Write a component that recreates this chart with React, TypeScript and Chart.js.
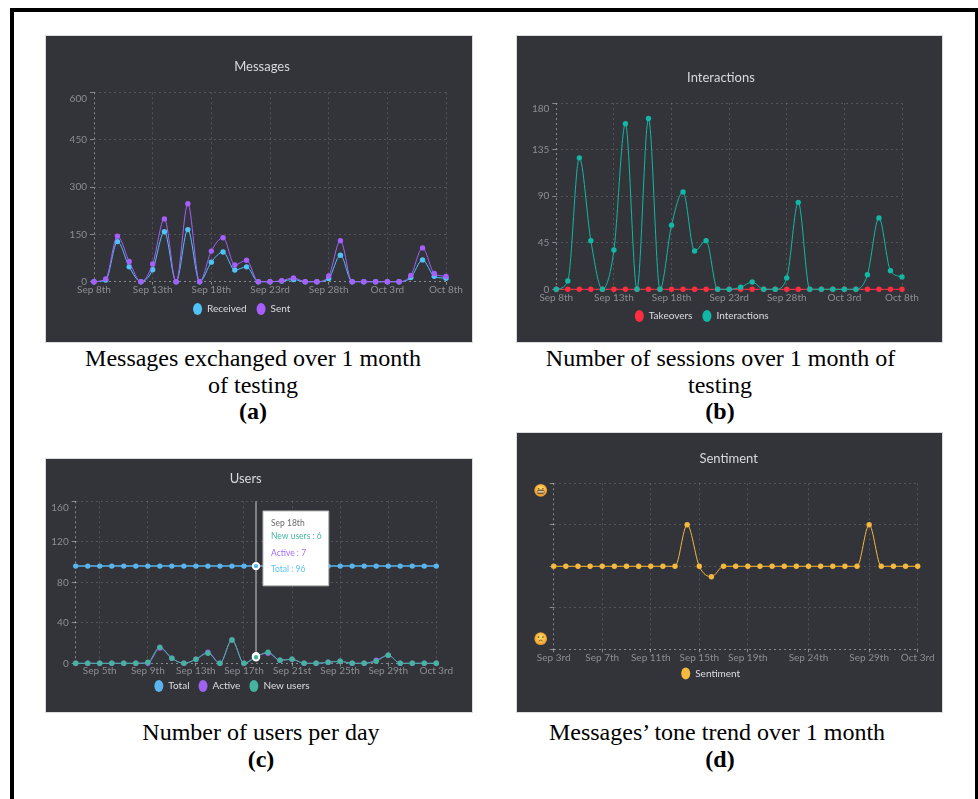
import React, { useEffect, useRef } from "react";
import { Chart, registerables, Tooltip } from "chart.js";

Chart.register(...registerables);

const datesFromSep8 = ["Sep 8th","Sep 9th","Sep 10th","Sep 11th","Sep 12th","Sep 13th","Sep 14th","Sep 15th","Sep 16th","Sep 17th","Sep 18th","Sep 19th","Sep 20th","Sep 21st","Sep 22nd","Sep 23rd","Sep 24th","Sep 25th","Sep 26th","Sep 27th","Sep 28th","Sep 29th","Sep 30th","Oct 1st","Oct 2nd","Oct 3rd","Oct 4th","Oct 5th","Oct 6th","Oct 7th","Oct 8th"];
const datesFromSep3 = ["Sep 3rd","Sep 4th","Sep 5th","Sep 6th","Sep 7th","Sep 8th","Sep 9th","Sep 10th","Sep 11th","Sep 12th","Sep 13th","Sep 14th","Sep 15th","Sep 16th","Sep 17th","Sep 18th","Sep 19th","Sep 20th","Sep 21st","Sep 22nd","Sep 23rd","Sep 24th","Sep 25th","Sep 26th","Sep 27th","Sep 28th","Sep 29th","Sep 30th","Oct 1st","Oct 2nd","Oct 3rd"];

const ticksFiveDay = ["Sep 8th","Sep 13th","Sep 18th","Sep 23rd","Sep 28th","Oct 3rd","Oct 8th"];
const ticksUsers = ["Sep 3rd","Sep 5th","Sep 9th","Sep 13th","Sep 17th","Sep 21st","Sep 25th","Sep 29th","Oct 3rd"];
const hiddenTicksUsers = ["Sep 3rd"];
const ticksSentiment = ["Sep 3rd","Sep 7th","Sep 11th","Sep 15th","Sep 19th","Sep 24th","Sep 29th","Oct 3rd"];

const received = [0,5,127,47,0,38,158,0,165,0,62,94,37,47,0,0,2,7,0,0,10,84,0,0,0,0,0,13,69,17,11];
const sent = [0,9,144,64,0,56,199,0,247,0,97,139,53,68,0,0,3,12,0,0,18,130,0,0,0,0,0,20,107,26,17];
const takeovers = [0,0,0,0,0,0,0,0,0,0,0,0,0,0,0,0,0,0,0,0,0,0,0,0,0,0,0,0,0,0,0];
const interactions = [0,8,127,47,0,38,160,0,165,0,62,94,37,47,0,0,2,7,0,0,11,84,0,0,0,0,0,14,69,18,12];
const totalUsers = [96,96,96,96,96,96,96,96,96,96,96,96,96,96,96,96,96,96,96,96,96,96,96,96,96,96,96,96,96,96,96];
const activeUsers = [0,0,0,0,0,0,0,15,5,0,4,11,0,23,0,7,10,3,4,0,0,1,2,0,0,3,8,0,0,0,0];
const newUsers = [0,0,0,0,0,0,1,16,5,0,4,10,0,23,0,6,11,3,4,0,0,1,2,0,0,2,8,0,0,0,0];
const sentiment = [0,0,0,0,0,0,0,0,0,0,0,1,0,-0.25,0,0,0,0,0,0,0,0,0,0,0,0,1,0,0,0,0];

const messagesTicks = [0,150,300,450,600];
const sessionsTicks = [0,45,90,135,180];
const usersTicks = [0,40,80,120,160];
const sentimentTicks = [-2,-1,0,1,2];

const captionLines = [
  { text: "Messages exchanged over 1 month", x: 253, y: 358, bold: false },
  { text: "of testing", x: 253, y: 385, bold: false },
  { text: "(a)", x: 253, y: 411, bold: true },
  { text: "Number of sessions over 1 month of", x: 720.5, y: 358, bold: false },
  { text: "testing", x: 720, y: 385, bold: false },
  { text: "(b)", x: 720, y: 411, bold: true },
  { text: "Number of users per day", x: 261, y: 732, bold: false },
  { text: "(c)", x: 261, y: 759, bold: true },
  { text: "Messages\u2019 tone trend over 1 month", x: 717, y: 732, bold: false },
  { text: "(d)", x: 720, y: 759, bold: true },
];

const FONT = "Lato, sans-serif";
const DIM = "rgba(255,255,255,0.16)";
const AXIS = "rgba(255,255,255,0.42)";
const TICK_TEXT = "#8d8d91";

(Tooltip as any).positioners.pinnedBox = function () {
  return { x: 217, y: 52, xAlign: "left", yAlign: "top" };
};

const placeBoxes = {
  id: "placeBoxes",
  afterLayout(chart: any, _a: any, o: any) {
    const t = chart.titleBlock;
    const tw = 200;
    t.left = o.titleCx - tw / 2;
    t.right = o.titleCx + tw / 2;
    t.width = tw;
    t.top = o.titleCy - t.height / 2;
    const l = chart.legend;
    const shift = o.legendCx - (l.left + l.right) / 2;
    l.left += shift;
    l.right += shift;
    l.top = o.legendCy - o.legendGap - 6;
  },
};

const crosshair = {
  id: "crosshair",
  beforeDatasetsDraw(chart: any, _a: any, o: any) {
    if (o.index == null) return;
    const x = chart.scales.x.getPixelForValue(o.index);
    const y = chart.scales.y.getPixelForValue(chart.data.datasets[o.dataset].data[o.index]);
    const c = chart.ctx;
    c.save();
    c.strokeStyle = "#b4b4b6";
    c.lineWidth = 1.2;
    c.beginPath();
    c.moveTo(x, chart.chartArea.top);
    c.lineTo(x, y);
    c.stroke();
    c.restore();
  },
};

function drawFace(c: CanvasRenderingContext2D, x: number, y: number, happy: boolean) {
  const r = 6.4;
  const g = c.createRadialGradient(x, y - 2, 1, x, y, r);
  g.addColorStop(0, "#fbd667");
  g.addColorStop(0.7, "#f5b63f");
  g.addColorStop(1, "#e4892c");
  c.fillStyle = g;
  c.beginPath();
  c.arc(x, y, r, 0, Math.PI * 2);
  c.fill();
  c.fillStyle = "#6b4a1c";
  c.beginPath();
  c.arc(x - 2.2, y - 1.6, 0.8, 0, Math.PI * 2);
  c.arc(x + 2.2, y - 1.6, 0.8, 0, Math.PI * 2);
  c.fill();
  if (happy) {
    c.fillStyle = "#7a5a2c";
    c.beginPath();
    c.ellipse(x, y + 1.6, 3.9, 2.4, 0, 0, Math.PI * 2);
    c.fill();
    c.fillStyle = "#eee3c8";
    c.fillRect(x - 3.2, y + 0.9, 6.4, 1.3);
  } else {
    c.strokeStyle = "#8a5d22";
    c.lineWidth = 0.9;
    c.beginPath();
    c.arc(x, y + 3.6, 2.2, Math.PI * 1.15, Math.PI * 1.85);
    c.stroke();
  }
}

const faces = {
  id: "faces",
  afterDraw(chart: any, _a: any, o: any) {
    if (!o.show) return;
    const y = chart.scales.y;
    const x = chart.chartArea.left - 13;
    drawFace(chart.ctx, x, y.getPixelForValue(y.max) + 7, true);
    drawFace(chart.ctx, x, y.getPixelForValue(y.min) - 10.6, false);
  },
};

type Geo = {
  w: number; h: number; left: number; right: number; top: number; bottom: number;
  titleCx: number; titleCy: number; legendCx: number; legendCy: number; legendGap: number; xLabelPad: number;
};

function series(label: string, data: number[], color: string, order: number, borderWidth = 1) {
  return {
    label, data, order,
    borderColor: color, backgroundColor: color,
    pointBackgroundColor: color, pointBorderColor: color, pointBorderWidth: 0,
    pointRadius: 2.7, borderWidth,
    cubicInterpolationMode: "monotone", clip: false,
    pointHoverRadius: 3.2, pointHoverBorderWidth: 2, pointHoverBorderColor: "#ffffff", pointHoverBackgroundColor: color,
  };
}

function buildOptions(g: Geo, title: string, gridLabels: string[], hidden: string[], yTicks: number[], showYLabels: boolean, extra: any = {}) {
  const titleH = 15.6;
  const legendH = 12 + g.legendGap + 10;
  const xAxisH = 20;
  const yMin = yTicks[0];
  const yMax = yTicks[yTicks.length - 1];
  const dim = (first: boolean) => (first ? AXIS : DIM);
  return {
    responsive: false,
    animation: false,
    maintainAspectRatio: false,
    events: [],
    layout: { padding: { left: 0, right: g.w - g.right, top: g.top - titleH, bottom: g.h - g.bottom - xAxisH - legendH } },
    scales: {
      x: {
        type: "category",
        grid: {
          color: (c: any) => dim(c.index === 0), tickColor: AXIS, tickLength: 3, tickBorderDash: [], lineWidth: 1,
        },
        border: { display: false, dash: [2, 3] },
        afterBuildTicks(s: any) {
          const labels = s.getLabels();
          s.ticks = s.ticks.filter((t: any) => gridLabels.includes(labels[t.value]));
        },
        afterFit(s: any) { s.height = xAxisH; s.paddingLeft = 0; s.paddingRight = 0; },
        ticks: {
          autoSkip: false, maxRotation: 0, minRotation: 0, padding: g.xLabelPad, color: TICK_TEXT,
          font: { family: FONT, size: 10 },
          callback(this: any, v: any) {
            const l = this.getLabelForValue(v);
            return hidden.includes(l) ? "" : l;
          },
        },
      },
      y: {
        min: yMin, max: yMax,
        grid: { color: (c: any) => dim(c.index === 0), tickColor: AXIS, tickLength: 4, tickBorderDash: [], lineWidth: 1 },
        border: { display: false, dash: [2, 3] },
        afterBuildTicks(s: any) { s.ticks = yTicks.map((value) => ({ value })); },
        afterFit(s: any) { s.width = g.left; s.paddingTop = 0; s.paddingBottom = 0; },
        ticks: {
          padding: 3, color: TICK_TEXT, font: { family: FONT, size: 10 },
          callback: (v: any) => (!showYLabels ? "" : v === yMax ? ["", String(v)] : String(v)),
        },
      },
    },
    plugins: {
      title: { display: true, text: title, color: "#d9d9dc", padding: 0, font: { family: FONT, size: 13, weight: "normal", lineHeight: 1.2 } },
      legend: {
        display: true, position: "bottom",
        labels: {
          usePointStyle: true, boxWidth: 8.5, boxHeight: 8.5, pointStyleWidth: 9, padding: g.legendGap, color: "#dcdce0",
          font: { family: FONT, size: 10 },
          sort: (a: any, b: any) => a.datasetIndex - b.datasetIndex,
        },
      },
      tooltip: { enabled: false },
      placeBoxes: { titleCx: g.titleCx, titleCy: g.titleCy, legendCx: g.legendCx, legendCy: g.legendCy, legendGap: g.legendGap },
      ...extra,
    },
  };
}

function useChart(make: (el: HTMLCanvasElement) => Chart) {
  const ref = useRef<HTMLCanvasElement | null>(null);
  useEffect(() => {
    const chart = make(ref.current as HTMLCanvasElement);
    return () => chart.destroy();
  }, []);
  return ref;
}

function Panel({ x, y, w, h, make }: { x: number; y: number; w: number; h: number; make: (el: HTMLCanvasElement) => Chart }) {
  const ref = useChart(make);
  return (
    <div style={{ position: "absolute", left: x, top: y, width: w, height: h, background: "#33343a", boxShadow: "0 0 0 1px rgba(190,190,195,0.55)" }}>
      <canvas ref={ref} width={w} height={h} style={{ display: "block", width: w, height: h, filter: "blur(0.45px)" }} />
    </div>
  );
}

const allPlugins = [placeBoxes, crosshair, faces];

const makeMessages = (el: HTMLCanvasElement) =>
  new Chart(el, {
    type: "line",
    plugins: allPlugins,
    data: { labels: datesFromSep8, datasets: [series("Received", received, "#4fc3f7", 2), series("Sent", sent, "#a65efc", 1)] },
    options: buildOptions({ w: 426, h: 306, left: 48, right: 400, top: 56.3, bottom: 243.7, titleCx: 216, titleCy: 31, legendCx: 195.7, legendCy: 274, legendGap: 10, xLabelPad: -1 }, "Messages", ticksFiveDay, [], messagesTicks, true),
  } as any);

const makeSessions = (el: HTMLCanvasElement) =>
  new Chart(el, {
    type: "line",
    plugins: allPlugins,
    data: { labels: datesFromSep8, datasets: [series("Takeovers", takeovers, "#ff2d40", 2), series("Interactions", interactions, "#12b8a6", 1)] },
    options: buildOptions({ w: 425, h: 306, left: 39.3, right: 385, top: 67, bottom: 251.3, titleCx: 204, titleCy: 41.7, legendCx: 184.7, legendCy: 281, legendGap: 10, xLabelPad: -1 }, "Interactions", ticksFiveDay, [], sessionsTicks, true),
  } as any);

const makeUsers = (el: HTMLCanvasElement) => {
  const chart = new Chart(el, {
    type: "line",
    plugins: allPlugins,
    data: {
      labels: datesFromSep3,
      datasets: [
        series("Total", totalUsers, "#5ab4ee", 3, 1.5),
        series("Active", activeUsers, "#9d62f0", 2),
        series("New users", newUsers, "#45b39d", 1),
      ],
    },
    options: (() => {
      const o: any = buildOptions({ w: 426, h: 253, left: 29.7, right: 390.3, top: 42.3, bottom: 202.3, titleCx: 199.7, titleCy: 19.5, legendCx: 186, legendCy: 228, legendGap: 9, xLabelPad: -2 }, "Users", ticksUsers, hiddenTicksUsers, usersTicks, true, { crosshair: { index: 15, dataset: 2 } });
      o.plugins.tooltip = {
        enabled: true, position: "pinnedBox", xAlign: "left", yAlign: "top",
        backgroundColor: "#ffffff", borderColor: "#b9b9b9", borderWidth: 1, cornerRadius: 0,
        caretSize: 0, caretPadding: 0, displayColors: false,
        padding: { top: 7, bottom: 11.6, left: 8, right: 7 },
        titleColor: "#6b6b6b", titleMarginBottom: 3.4, titleFont: { family: FONT, size: 8.5, weight: "normal" },
        bodyFont: { family: FONT, size: 8.5 }, bodySpacing: 6,
        callbacks: {
          label: (c: any) => `${c.dataset.label} : ${c.formattedValue}`,
          labelTextColor: (c: any) => c.dataset.tooltipColor,
        },
      };
      return o;
    })(),
  } as any);
  const ds: any[] = chart.data.datasets as any[];
  ds[0].tooltipColor = "#5cc3f5";
  ds[1].tooltipColor = "#a66cff";
  ds[2].tooltipColor = "#45b8a0";
  const active = [2, 1, 0].map((datasetIndex) => ({ datasetIndex, index: 15 }));
  chart.setActiveElements(active);
  const pt = chart.getDatasetMeta(2).data[15];
  (chart.tooltip as any).setActiveElements(active, { x: pt.x, y: pt.y });
  chart.render();
  return chart;
};

const makeSentiment = (el: HTMLCanvasElement) =>
  new Chart(el, {
    type: "line",
    plugins: allPlugins,
    data: { labels: datesFromSep3, datasets: [series("Sentiment", sentiment, "#f6b83d", 1)] },
    options: buildOptions({ w: 425, h: 279, left: 36.7, right: 400.7, top: 50.3, bottom: 214.3, titleCx: 211.7, titleCy: 26.3, legendCx: 193.7, legendCy: 241.5, legendGap: 10, xLabelPad: -1 }, "Sentiment", ticksSentiment, [], sentimentTicks, false, { faces: { show: true } }),
  } as any);

export default function App() {
  return (
    <div style={{ position: "absolute", left: 0, top: 0, width: 978, height: 799, background: "#fff", overflow: "hidden" }}>
      <div style={{ position: "absolute", left: 10, top: 8, width: 961, height: 820, border: "4px solid #000" }} />
      <Panel x={46} y={36} w={426} h={306} make={makeMessages} />
      <Panel x={517} y={36} w={425} h={306} make={makeSessions} />
      <Panel x={46} y={459} w={426} h={253} make={makeUsers} />
      <Panel x={517} y={433} w={425} h={279} make={makeSentiment} />
      {captionLines.map((l) => (
        <div key={l.text} style={{ position: "absolute", left: l.x - 250, top: l.y - 13, width: 500, height: 26, lineHeight: "26px", textAlign: "center", fontFamily: "'Liberation Serif', serif", fontSize: 24, fontWeight: l.bold ? 700 : 400, color: "#000", whiteSpace: "nowrap" }}>
          {l.text}
        </div>
      ))}
    </div>
  );
}
